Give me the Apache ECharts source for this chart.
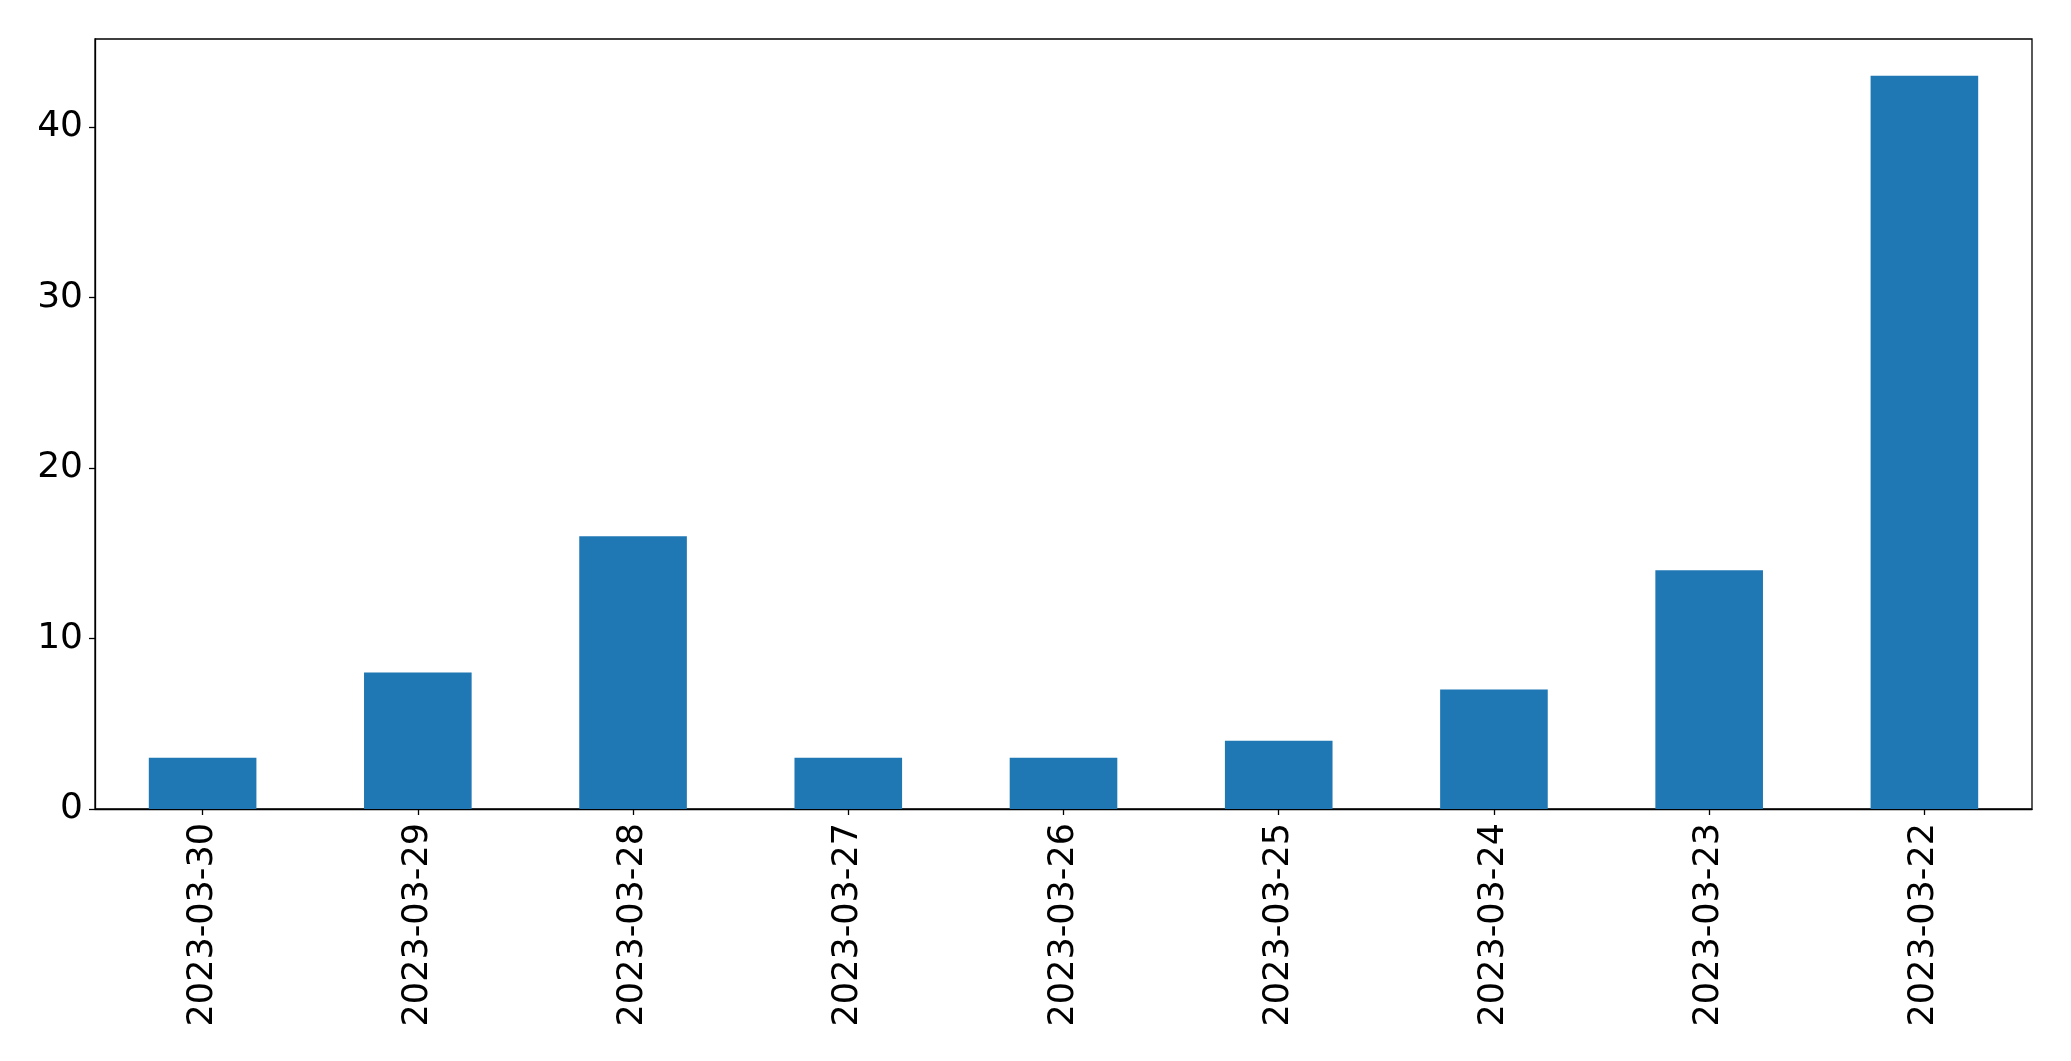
<!DOCTYPE html>
<html>
<head>
<meta charset="utf-8">
<script src="https://cdn.jsdelivr.net/npm/echarts@6/dist/echarts.min.js"></script>
<style>
* { margin: 0; padding: 0; }
#chart-container { width: 2071px; height: 1061px; background: #fff; }
</style>
</head>
<body>
<div id="chart-container"></div>
<script>
// dates on the x axis, newest first
const dates = ['2023-03-30', '2023-03-29', '2023-03-28', '2023-03-27', '2023-03-26',
    '2023-03-25', '2023-03-24', '2023-03-23', '2023-03-22'];
// count per day
const counts = [3, 8, 16, 3, 3, 4, 7, 14, 43];
const yTicks = [0, 10, 20, 30, 40];

const dom = document.getElementById('chart-container');
const myChart = echarts.init(dom, null, { renderer: 'canvas' });

const font = 'DejaVu Sans';

let option = {
    animation: false,
    grid: {
        left: 95,
        right: 39,
        top: 39,
        bottom: 252,
        show: true,
        borderColor: '#000',
        borderWidth: 1.3,
        containLabel: false
    },
    xAxis: {
        type: 'category',
        data: dates,
        boundaryGap: true,
        axisLine: { show: true, lineStyle: { color: '#000', width: 1.3 } },
        axisTick: { show: true, alignWithLabel: true, length: 6, lineStyle: { color: '#000', width: 1.3 } },
        axisLabel: {
            rotate: 90,
            margin: 14,
            fontSize: 35,
            fontFamily: font,
            color: '#000'
        }
    },
    yAxis: {
        type: 'value',
        min: 0,
        max: 45.15,
        interval: 10,
        splitLine: { show: false },
        axisLine: { show: true, lineStyle: { color: '#000', width: 1.3 } },
        axisTick: { show: true, length: 6, lineStyle: { color: '#000', width: 1.3 } },
        axisLabel: {
            margin: 12,
            fontSize: 36,
            fontFamily: font,
            color: '#000',
            showMaxLabel: false,
            formatter: function (v) {
                return yTicks.indexOf(v) >= 0 ? String(v) : '';
            }
        }
    },
    series: [
        {
            type: 'bar',
            data: counts,
            barWidth: '50%',
            itemStyle: { color: '#1f77b4' }
        }
    ]
};

myChart.setOption(option);
</script>
</body>
</html>
